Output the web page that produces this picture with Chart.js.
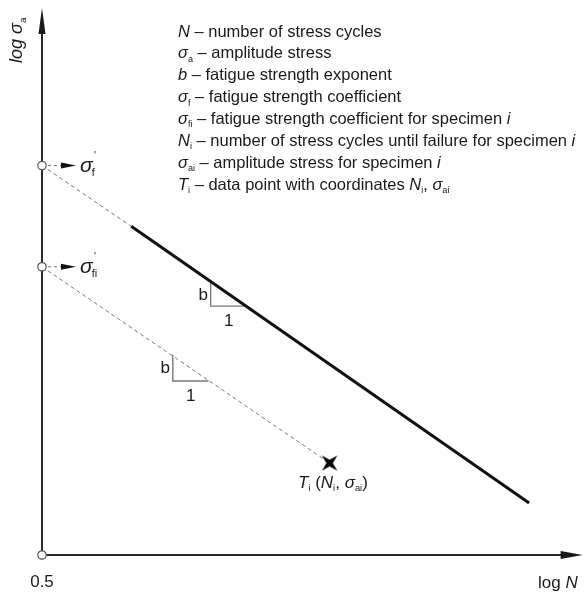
<!DOCTYPE html>
<html>
<head>
<meta charset="utf-8">
<script src="https://cdn.jsdelivr.net/npm/chart.js@4.4.1/dist/chart.umd.min.js"></script>
<style>
  body { margin: 0; background: #fff; }
</style>
</head>
<body>
<canvas id="myChart" width="588" height="594"></canvas>
<script>
// values in log units
var originLogN = 0.5;
var curveLogN = [2.15, 9.51];
var curveLogS = [6.01, 0.95];
var interceptLogS = [7.12, 5.27];   // sigma_f', sigma_fi'
var interceptNames = ["f", "fi"];
var specimenLogN = [5.82];
var specimenLogS = [1.68];
var slope1LogN = [3.62, 3.62, 4.26];
var slope1LogS = [5.01, 4.55, 4.55];
var slope2LogN = [2.92, 2.92, 3.58];
var slope2LogS = [3.66, 3.18, 3.18];

var FONT = '"Liberation Sans", Arial, sans-serif';
var legendLines = [
  [["N", "i"], [" \u2013 number of stress cycles", ""]],
  [["\u03c3", "i"], ["a", "b"], [" \u2013 amplitude stress", ""]],
  [["b", "i"], [" \u2013 fatigue strength exponent", ""]],
  [["\u03c3", "i"], ["f", "b"], [" \u2013 fatigue strength coefficient", ""]],
  [["\u03c3", "i"], ["fi", "b"], [" \u2013 fatigue strength coefficient for specimen ", ""], ["i", "i"]],
  [["N", "i"], ["i", "b"], [" \u2013 number of stress cycles until failure for specimen ", ""], ["i", "i"]],
  [["\u03c3", "i"], ["ai", "b"], [" \u2013 amplitude stress for specimen ", ""], ["i", "i"]],
  [["T", "i"], ["i", "b"], [" \u2013 data point with coordinates ", ""], ["N", "i"], ["i", "b"], [", ", ""], ["\u03c3", "i"], ["ai", "b"]]
];
var pointLabel = [["T", "i"], ["i", "b"], [" (", ""], ["N", "i"], ["i", "b"], [", ", ""], ["\u03c3", "i"], ["ai", "b"], [")", ""]];

function pts(xs, ys) {
  return xs.map(function (x, i) { return {x: x, y: ys[i]}; });
}

// text made of runs: i = italic, b = subscript, p = superscript
function rich(ctx, x, y, runs, size) {
  runs.forEach(function (r) {
    var t = r[0], s = r[1];
    var small = s.indexOf("b") >= 0 || s.indexOf("p") >= 0;
    var fs = small ? size * 0.55 : size;
    ctx.font = (s.indexOf("i") >= 0 ? "italic " : "") + fs + "px " + FONT;
    var dy = s.indexOf("b") >= 0 ? size * 0.2 : (s.indexOf("p") >= 0 ? -size * 0.55 : 0);
    ctx.fillText(t, x, y + dy);
    x += ctx.measureText(t).width;
  });
  return x;
}

// four pointed star marker
var star = document.createElement("canvas");
star.width = 24; star.height = 24;
(function () {
  var c = star.getContext("2d");
  c.fillStyle = "#000";
  c.beginPath();
  for (var k = 0; k < 8; k++) {
    var a = Math.PI / 4 + k * Math.PI / 4;
    var r = k % 2 === 0 ? 11 : 3.2;
    c.lineTo(12 + r * Math.cos(a), 12 + r * Math.sin(a));
  }
  c.closePath();
  c.fill();
})();

var drawing = {
  id: "drawing",
  beforeDatasetsDraw: function (chart) {
    var ctx = chart.ctx, a = chart.chartArea;
    ctx.save();
    ctx.strokeStyle = "#2a2a2a";
    ctx.fillStyle = "#1a1a1a";
    ctx.lineWidth = 2;
    ctx.beginPath();
    ctx.moveTo(a.left, a.bottom);
    ctx.lineTo(a.left, a.top + 20);
    ctx.moveTo(a.left, a.bottom);
    ctx.lineTo(a.right - 18, a.bottom);
    ctx.stroke();
    ctx.beginPath();
    ctx.moveTo(a.left, a.top);
    ctx.lineTo(a.left - 3.5, a.top + 26);
    ctx.lineTo(a.left + 3.5, a.top + 26);
    ctx.closePath();
    ctx.fill();
    ctx.beginPath();
    ctx.moveTo(a.right, a.bottom);
    ctx.lineTo(a.right - 22, a.bottom - 4);
    ctx.lineTo(a.right - 22, a.bottom + 4);
    ctx.closePath();
    ctx.fill();

    // small arrows from the intercepts
    var xs = chart.scales.x, ys = chart.scales.y;
    interceptLogS.forEach(function (v) {
      var cx = xs.getPixelForValue(originLogN), cy = ys.getPixelForValue(v);
      ctx.strokeStyle = "#777";
      ctx.lineWidth = 1;
      ctx.setLineDash([3, 3]);
      ctx.beginPath();
      ctx.moveTo(cx + 6, cy);
      ctx.lineTo(cx + 20, cy);
      ctx.stroke();
      ctx.setLineDash([]);
      ctx.fillStyle = "#111";
      ctx.beginPath();
      ctx.moveTo(cx + 34, cy);
      ctx.lineTo(cx + 19, cy - 3);
      ctx.lineTo(cx + 19, cy + 3);
      ctx.closePath();
      ctx.fill();
    });
    ctx.restore();
  },
  afterDatasetsDraw: function (chart) {
    var ctx = chart.ctx, a = chart.chartArea;
    var xs = chart.scales.x, ys = chart.scales.y;
    ctx.save();
    ctx.fillStyle = "#1a1a1a";
    ctx.textBaseline = "alphabetic";
    ctx.textAlign = "left";

    legendLines.forEach(function (line, i) {
      rich(ctx, 178, 36.5 + i * 21.9, line, 16.5);
    });

    // intercept labels
    interceptLogS.forEach(function (v, i) {
      var cx = xs.getPixelForValue(originLogN), cy = ys.getPixelForValue(v);
      ctx.font = "italic 21px " + FONT;
      ctx.fillText("\u03c3", cx + 38, cy + 6);
      var w = ctx.measureText("\u03c3").width;
      ctx.font = "11px " + FONT;
      ctx.fillText(interceptNames[i], cx + 38 + w - 1, cy + 10);
      ctx.font = "10px " + FONT;
      ctx.fillText("'", cx + 52, cy - 7);
    });

    // slope triangle labels
    ctx.textAlign = "center";
    ctx.textBaseline = "middle";
    ctx.font = "17px " + FONT;
    [[slope1LogN, slope1LogS], [slope2LogN, slope2LogS]].forEach(function (t) {
      var vx = xs.getPixelForValue(t[0][0]);
      var top = ys.getPixelForValue(t[1][0]);
      var bot = ys.getPixelForValue(t[1][1]);
      ctx.fillText("b", vx - 7.5, top + 14);
      ctx.fillText("1", vx + 18, bot + 15);
    });

    // axis labels
    ctx.fillText("0.5", a.left, 582);
    ctx.textAlign = "left";
    ctx.textBaseline = "alphabetic";
    rich(ctx, 538, 588, [["log ", ""], ["N", "i"]], 17);
    rich(ctx, 298, 488, pointLabel, 17);

    ctx.translate(22, 63);
    ctx.rotate(-Math.PI / 2);
    rich(ctx, 0, 0, [["log ", "i"], ["\u03c3", "i"], ["a", "b"]], 18);
    ctx.restore();
  }
};

var dashed = {borderColor: "#7a7a7a", borderWidth: 1, borderDash: [4, 3], pointRadius: 0, showLine: true, clip: false};
var tri = {borderColor: "#777", borderWidth: 1.4, pointRadius: 0, showLine: true, clip: false};

new Chart("myChart", {
  type: "scatter",
  data: {
    datasets: [
      {
        data: pts([originLogN, originLogN, originLogN], interceptLogS.concat([0])),
        pointStyle: "circle", pointRadius: 4.2, backgroundColor: "#fff",
        borderColor: "#555", borderWidth: 1.2, clip: false
      },
      { data: pts(specimenLogN, specimenLogS), pointStyle: star, clip: false },
      {
        data: pts(curveLogN, curveLogS), showLine: true, borderColor: "#111",
        borderWidth: 3, pointRadius: 0, clip: false
      },
      Object.assign({data: pts([originLogN, curveLogN[0]], [interceptLogS[0], curveLogS[0]])}, dashed),
      Object.assign({data: pts([originLogN, specimenLogN[0]], [interceptLogS[1], specimenLogS[0]])}, dashed),
      Object.assign({data: pts(slope1LogN, slope1LogS)}, tri),
      Object.assign({data: pts(slope2LogN, slope2LogS)}, tri)
    ]
  },
  options: {
    responsive: false,
    animation: false,
    devicePixelRatio: 1,
    layout: {padding: {left: 42, right: 1, top: 8, bottom: 39}},
    scales: {
      x: {type: "linear", min: 0.5, max: 10.5, display: false},
      y: {type: "linear", min: 0, max: 10, display: false}
    },
    plugins: {
      legend: {display: false},
      tooltip: {enabled: false}
    }
  },
  plugins: [drawing]
});
</script>
</body>
</html>
